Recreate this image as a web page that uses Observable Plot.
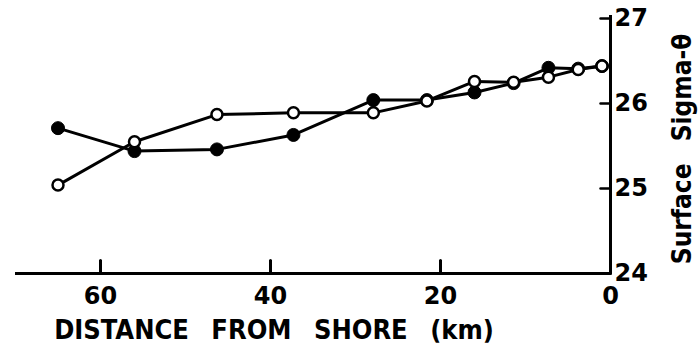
<!DOCTYPE html>
<html>
<head>
<meta charset="utf-8">
<script src="https://cdn.jsdelivr.net/npm/d3@7"></script>
<script src="https://cdn.jsdelivr.net/npm/@observablehq/plot@0.6"></script>
<style>
  html, body { margin: 0; padding: 0; background: #fff; overflow: hidden; }
  #chart svg { display: block; }
  #chart svg text { word-spacing: 14px; }
</style>
</head>
<body>
<div id="chart"></div>
<script>
// Distance from shore (km) for each station
const distanceKm = [65, 56, 46.3, 37.3, 27.9, 21.6, 16, 11.4, 7.3, 3.8, 1];
// Surface sigma-theta, filled-circle series
const sigmaFilled = [25.71, 25.44, 25.46, 25.63, 26.04, 26.04, 26.13, 26.24, 26.42, 26.41, 26.44];
// Surface sigma-theta, open-circle series
const sigmaOpen = [25.04, 25.55, 25.87, 25.89, 25.89, 26.03, 26.26, 26.25, 26.31, 26.40, 26.44];
// Tick labels
const xTicks = [60, 40, 20, 0];
const yTicks = [24, 25, 26, 27];
const xLabel = "DISTANCE FROM SHORE (km)";
const yLabel = "Surface Sigma-θ";

const filledData = distanceKm.map((km, i) => ({km, v: sigmaFilled[i]}));
const openData = distanceKm.map((km, i) => ({km, v: sigmaOpen[i]}));

const W = 700, H = 347, ML = 15, MR = 90, MT = 18, MB = 74;

// straight tick shape (no arrow head) for vector marks
const tickShape = {draw(context, l) { context.moveTo(0, 0); context.lineTo(0, -l); }};

const chart = Plot.plot({
  width: W,
  height: H,
  marginLeft: ML,
  marginRight: MR,
  marginTop: MT,
  marginBottom: MB,
  style: {fontFamily: "'DejaVu Sans', sans-serif", color: "black", background: "white"},
  x: {domain: [70, 0], label: null},
  y: {domain: [24, 27], label: null},
  marks: [
    // tick labels
    Plot.axisX({anchor: "bottom", ticks: xTicks, tickSize: 0, tickPadding: 13, tickFormat: "d", fontSize: 24, fontWeight: "bold", label: null}),
    Plot.axisY({anchor: "right", ticks: yTicks, tickSize: 0, tickPadding: 4, tickFormat: "d", fontSize: 24, fontWeight: "bold", label: null}),
    Plot.text([xLabel], {frameAnchor: "bottom", dx: -39, dy: 65, fontSize: 27, fontWeight: "bold", fontFamily: "'DejaVu Sans Condensed', 'DejaVu Sans', sans-serif", fill: "black"}),
    Plot.text([yLabel], {frameAnchor: "right", textAnchor: "middle", rotate: -90, dx: 80, dy: 3, lineAnchor: "bottom", fontSize: 26, fontWeight: "bold", fontFamily: "'DejaVu Sans Condensed', 'DejaVu Sans', sans-serif", fill: "black"}),
    // data
    Plot.line(filledData, {x: "km", y: "v", stroke: "black", strokeWidth: 3}),
    Plot.line(openData, {x: "km", y: "v", stroke: "black", strokeWidth: 3}),
    Plot.dot(filledData, {x: "km", y: "v", r: 6.5, fill: "black", stroke: "black", strokeWidth: 1}),
    Plot.dot(openData, {x: "km", y: "v", r: 5.5, fill: "white", stroke: "black", strokeWidth: 2.5}),
    // axis lines and inward tick marks, drawn last
    Plot.ruleY([yTicks[0]], {stroke: "black", strokeWidth: 3}),
    Plot.ruleX([xTicks[xTicks.length - 1]], {stroke: "black", strokeWidth: 3, insetTop: -3}),
    // x ticks: outward axis ticks shifted up so they point into the plot
    Plot.axisX({anchor: "bottom", ticks: xTicks, tickSize: 13, dy: -13, fill: "none", stroke: "black", strokeWidth: 3, label: null}),
    Plot.vector(xTicks, {x: d => d, y: yTicks[0], length: 13, rotate: 0, anchor: "start", shape: tickShape, stroke: "black", strokeWidth: 3}),
    Plot.vector(yTicks, {x: xTicks[xTicks.length - 1], y: d => d, length: 10, rotate: -90, anchor: "start", shape: tickShape, stroke: "black", strokeWidth: 2.5})
  ]
});
document.getElementById("chart").append(chart);
</script>
</body>
</html>
